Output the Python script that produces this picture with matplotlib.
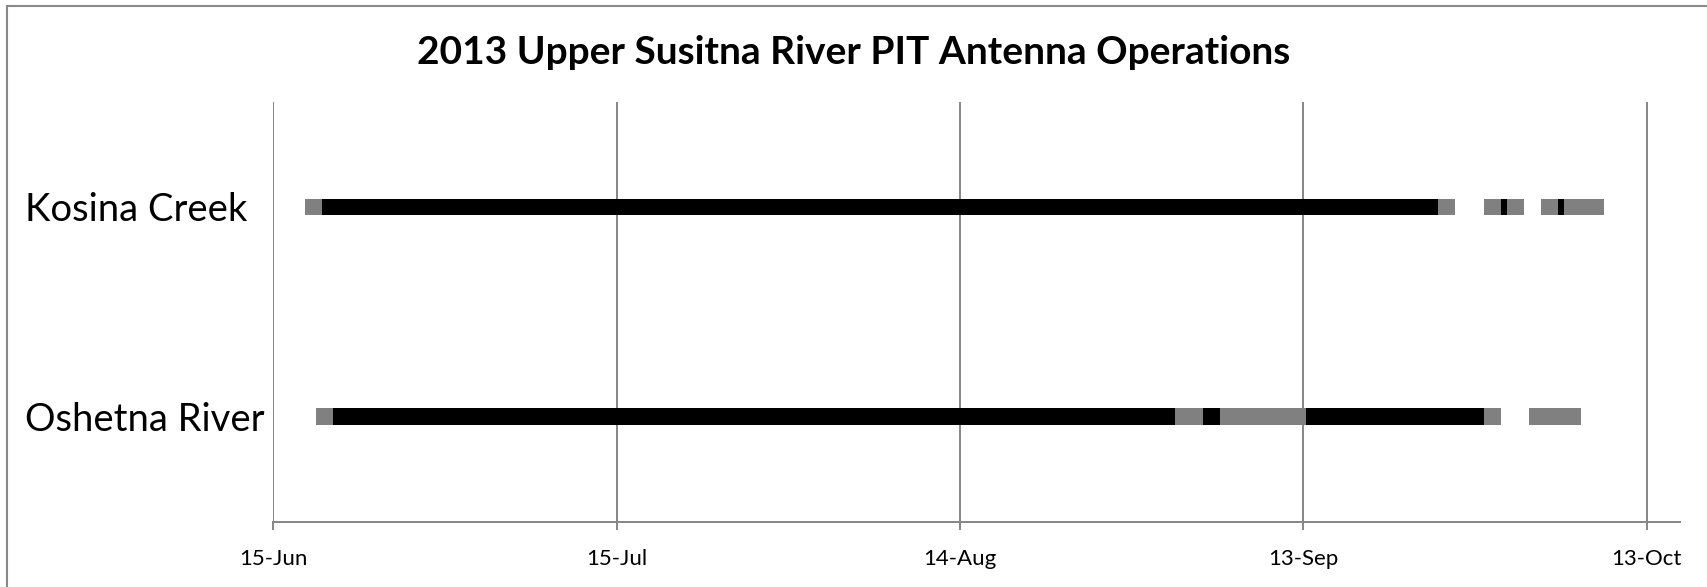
import numpy as np
import pandas as pd
import matplotlib.pyplot as plt
import matplotlib.dates as mdates
from matplotlib.patches import Rectangle

plt.rcParams['font.family'] = ['Lato', 'DejaVu Sans']

sites = ["Kosina Creek", "Oshetna River"]

# operating periods: black = fully operational, gray = partial
kosina_start = ["2013-06-17 18:00", "2013-06-19 06:00", "2013-09-24 18:00",
                "2013-09-28 18:00", "2013-09-30 06:00", "2013-09-30 18:00",
                "2013-10-03 18:00", "2013-10-05 06:00", "2013-10-05 18:00"]
kosina_end = ["2013-06-19 06:00", "2013-09-24 18:00", "2013-09-26 06:00",
              "2013-09-30 06:00", "2013-09-30 18:00", "2013-10-02 06:00",
              "2013-10-05 06:00", "2013-10-05 18:00", "2013-10-09 06:00"]
kosina_status = ["partial", "full", "partial",
                 "partial", "full", "partial",
                 "partial", "full", "partial"]

oshetna_start = ["2013-06-18 18:00", "2013-06-20 06:00", "2013-09-01 18:00",
                 "2013-09-04 06:00", "2013-09-05 18:00", "2013-09-13 06:00",
                 "2013-09-28 18:00", "2013-10-02 18:00"]
oshetna_end = ["2013-06-20 06:00", "2013-09-01 18:00", "2013-09-04 06:00",
               "2013-09-05 18:00", "2013-09-13 06:00", "2013-09-28 18:00",
               "2013-09-30 06:00", "2013-10-07 06:00"]
oshetna_status = ["partial", "full", "partial",
                  "full", "partial", "full",
                  "partial", "partial"]

tick_dates = ["2013-06-15", "2013-07-15", "2013-08-14", "2013-09-13", "2013-10-13"]

colors = {"full": "#000000", "partial": "#808080"}

fig = plt.figure(figsize=(17.07, 5.87), dpi=100)
ax = fig.add_axes([273.3 / 1707, 1 - 521.5 / 587, (1680 - 273.3) / 1707, (521.5 - 102) / 587])

rows = [(kosina_start, kosina_end, kosina_status),
        (oshetna_start, oshetna_end, oshetna_status)]
for i, (st, en, stat) in enumerate(rows):
    s = mdates.date2num(pd.to_datetime(st))
    e = mdates.date2num(pd.to_datetime(en))
    ax.barh([i + 0.5] * len(s), e - s, left=s, height=0.078,
            color=[colors[k] for k in stat], linewidth=0, zorder=3)

t0 = mdates.date2num(pd.Timestamp("2013-06-15"))
ax.set_xlim(t0, t0 + 122.9)
ax.set_ylim(2, 0)

ticks = mdates.date2num(pd.to_datetime(tick_dates))
ax.set_xticks(ticks)
ax.xaxis.set_major_formatter(mdates.DateFormatter('%d-%b'))
ax.grid(axis='x', color='#868686', linewidth=1.4, zorder=1)
ax.tick_params(axis='x', direction='out', length=6, width=1.4, color='#868686',
               labelsize=16, pad=14)

ax.set_yticks([0.5, 1.5], sites)
ax.tick_params(axis='y', length=0, labelsize=27.5, pad=179)
for lbl in ax.get_yticklabels():
    lbl.set_ha('left')

for side in ["top", "right", "left"]:
    ax.spines[side].set_visible(False)
ax.spines["bottom"].set_color('#868686')
ax.spines["bottom"].set_linewidth(1.4)

fig.text(0.5, 1 - 53 / 587, "2013 Upper Susitna River PIT Antenna Operations",
         ha='center', va='center', fontsize=28, fontweight='bold')

# chart frame (only the top and left edges fall inside the image)
fig.patches.append(Rectangle((7 / 1707, -0.1), 1.1, 1 - 6 / 587 + 0.1,
                             transform=fig.transFigure, fill=False,
                             edgecolor='#898989', linewidth=1.5))

fig.savefig("out.png", dpi=100)
